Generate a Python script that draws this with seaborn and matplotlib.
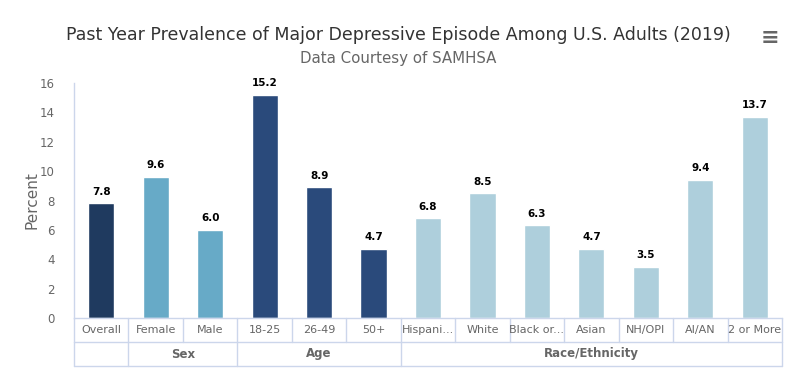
import numpy as np
import pandas as pd
import matplotlib
matplotlib.use("Agg")
import matplotlib.pyplot as plt
import seaborn as sns

# data
categories = ["Overall", "Female", "Male", "18-25", "26-49", "50+",
              "Hispani...", "White", "Black or...", "Asian", "NH/OPI", "AI/AN", "2 or More"]
values = [7.8, 9.6, 6.0, 15.2, 8.9, 4.7, 6.8, 8.5, 6.3, 4.7, 3.5, 9.4, 13.7]
groups = ["Overall", "Sex", "Sex", "Age", "Age", "Age",
          "Race/Ethnicity", "Race/Ethnicity", "Race/Ethnicity", "Race/Ethnicity",
          "Race/Ethnicity", "Race/Ethnicity", "Race/Ethnicity"]
group_labels = ["", "Sex", "Age", "Race/Ethnicity"]
group_colors = {"Overall": "#1f3a5f", "Sex": "#67aac7",
                "Age": "#2a4a7b", "Race/Ethnicity": "#aecfdc"}

df = pd.DataFrame({"category": categories, "value": values, "group": groups})

sns.set_style("white")
plt.rcParams["font.family"] = ["DejaVu Sans"]

fig = plt.figure(figsize=(8, 3.82), dpi=100)
ax = fig.add_axes([74 / 800, 1 - 318 / 382, (782 - 74) / 800, (318 - 83) / 382])

sns.barplot(data=df, x="category", y="value", hue="group", palette=group_colors,
            dodge=False, width=0.48, saturation=1, legend=False, ax=ax)

ax.set_ylim(0, 16)
ax.set_xlim(-0.5, len(categories) - 0.5)
ax.set_yticks(range(0, 17, 2))
ax.tick_params(axis="y", labelsize=8.5, colors="#666666", length=0, pad=14)
ax.set_xticks([])
ax.set_xlabel("")
ax.set_ylabel("Percent", fontsize=11, color="#666666", labelpad=0)
for s in ["top", "right"]:
    ax.spines[s].set_visible(False)
for s in ["left", "bottom"]:
    ax.spines[s].set_color("#ccd6eb")
    ax.spines[s].set_linewidth(1)

# value labels
for i, v in enumerate(values):
    ax.text(i, v + 0.45, f"{v:.1f}", ha="center", va="bottom",
            fontsize=7.5, fontweight="bold", color="black")

# grouped category axis below the plot
tr = ax.get_xaxis_transform()
line_kw = dict(color="#ccd6eb", lw=1, transform=tr, clip_on=False)
r1 = -24 / 235
r2 = -48 / 235
n = len(categories)
ax.plot([-0.5, n - 0.5], [r1, r1], **line_kw)
ax.plot([-0.5, n - 0.5], [r2, r2], **line_kw)
for i in range(n + 1):
    ax.plot([i - 0.5, i - 0.5], [0, r1], **line_kw)
for i, c in enumerate(categories):
    ax.text(i, r1 / 2, c, transform=tr, ha="center", va="center",
            fontsize=8, color="#666666")

bounds = [-0.5]
for g in ["Overall", "Sex", "Age", "Race/Ethnicity"]:
    idx = [i for i, x in enumerate(groups) if x == g]
    bounds.append(idx[-1] + 0.5)
for b in bounds:
    ax.plot([b, b], [r1, r2], **line_kw)
for k, lab in enumerate(group_labels):
    mid = (bounds[k] + bounds[k + 1]) / 2
    ax.text(mid, (r1 + r2) / 2, lab, transform=tr, ha="center", va="center",
            fontsize=8.5, fontweight="bold", color="#666666")

fig.text(398 / 800, 1 - 35 / 382, "Past Year Prevalence of Major Depressive Episode Among U.S. Adults (2019)",
         ha="center", va="center", fontsize=12.5, color="#333333")
fig.text(398 / 800, 1 - 59 / 382, "Data Courtesy of SAMHSA",
         ha="center", va="center", fontsize=10.8, color="#666666")
fig.text(770 / 800, 1 - 38 / 382, "≡", ha="center", va="center",
         fontsize=16, fontweight="bold", color="#666666")

fig.savefig("out.png", dpi=100)
